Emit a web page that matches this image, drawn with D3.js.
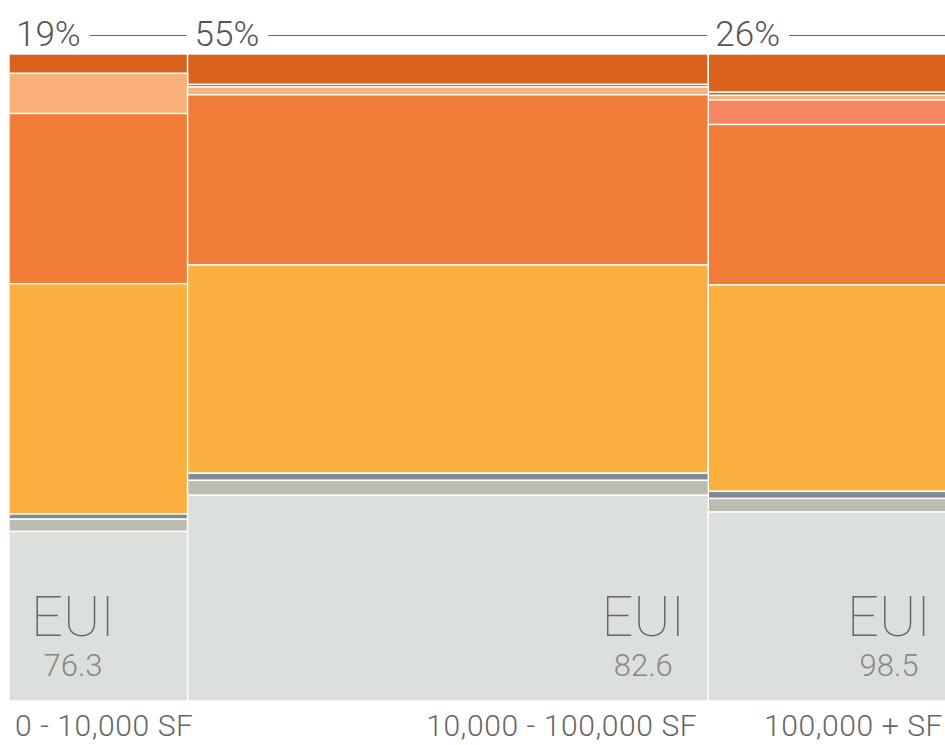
<!DOCTYPE html>
<html>
<head>
<meta charset="utf-8">
<script src="https://cdn.jsdelivr.net/npm/d3@7"></script>
<style>
  body { margin: 0; background: #fff; overflow: hidden; }
  text { font-family: Roboto, "Open Sans", sans-serif; }
</style>
</head>
<body>
<script>
var width = 945,
    height = 745;

// building size groups (column width = share of buildings)
var sizeLabels = ['0 - 10,000 SF', '10,000 - 100,000 SF', '100,000 + SF'];
var shares = [18.9, 55.1, 26.0];
var euiValues = [76.3, 82.6, 98.5];

// segment share (%) inside each column, listed top to bottom
var segKeys = ['s1', 's2', 's3', 's4', 's5', 's6', 's7', 's8', 's9'];
var segColors = ['#D9621D', '#C9692E', '#F8B179', '#F68561', '#F17C38', '#FAAF3F', '#7F8A94', '#BBBDB1', '#DCE0DD'];
var s1 = [3.0, 4.7, 5.9];
var s2 = [0, 0.4, 0.5];
var s3 = [6.2, 1.2, 0.7];
var s4 = [0, 0, 3.8];
var s5 = [26.3, 26.3, 24.8];
var s6 = [35.6, 32.2, 31.9];
var s7 = [0.8, 1.1, 1.1];
var s8 = [1.9, 2.3, 2.1];
var s9 = [26.2, 31.8, 29.2];
var segValues = [s1, s2, s3, s4, s5, s6, s7, s8, s9];

var svg = d3.select('body')
            .append('svg')
            .attr('width', width)
            .attr('height', height)

var x = d3.scaleLinear().domain([0, 100]).range([9, 954])
var y = d3.scaleLinear().domain([0, 100]).range([54, 701])
var color = d3.scaleOrdinal().domain(segKeys).range(segColors)

// cumulative left edge for each column
var cum = 0
var cols = shares.map(function(s, i) {
    var row = {i: i, x0: cum, x1: cum + s}
    cum += s
    segKeys.forEach(function(k, j) { row[k] = segValues[j][i] })
    return row
})

var stacked = d3.stack().keys(segKeys)(cols)

var seg = svg.selectAll('g.seg')
    .data(stacked)
    .enter().append('g')
    .attr('class', 'seg')
    .attr('fill', function(d) { return color(d.key) })

seg.selectAll('rect')
    .data(function(d) { return d.filter(function(p) { return p[1] - p[0] > 0 }) })
    .enter().append('rect')
    .attr('x', function(d) { return x(d.data.x0) })
    .attr('width', function(d) { return x(d.data.x1) - x(d.data.x0) })
    .attr('y', function(d) { return y(d[0]) })
    .attr('height', function(d) { return y(d[1]) - y(d[0]) })
    .attr('stroke', '#fff')
    .attr('stroke-width', 1.4)

var pct = d3.format('.0f')

// share labels with rule along top
cols.forEach(function(c) {
    var left = x(c.x0), right = x(c.x1)
    var t = svg.append('text')
        .attr('x', left + 7)
        .attr('y', 46)
        .attr('font-size', 35)
        .attr('font-weight', 300)
        .attr('fill', '#555')
        .text(pct(shares[c.i]) + '%')
    var tw = t.node().getComputedTextLength()
    svg.append('line')
        .attr('x1', left + 7 + tw + 9)
        .attr('x2', right - 1)
        .attr('y1', 35.5)
        .attr('y2', 35.5)
        .attr('stroke', '#666')
        .attr('stroke-width', 1)
})

// EUI labels
cols.forEach(function(c) {
    var cx = c.i === 0 ? x(c.x0) + 64 : x(c.x1) - 65
    svg.append('text')
        .attr('x', cx)
        .attr('y', 636)
        .attr('text-anchor', 'middle')
        .attr('font-size', 56)
        .attr('font-weight', 100)
        .attr('fill', '#666')
        .text('EUI')
    svg.append('text')
        .attr('x', cx)
        .attr('y', 676)
        .attr('text-anchor', 'middle')
        .attr('font-size', 31)
        .attr('font-weight', 300)
        .attr('fill', '#888')
        .text(euiValues[c.i])
})

// size labels under the columns
cols.forEach(function(c) {
    var first = c.i === 0
    svg.append('text')
        .attr('x', first ? x(c.x0) + 6 : x(c.x1) - 11)
        .attr('y', 736)
        .attr('text-anchor', first ? 'start' : 'end')
        .attr('font-size', 30)
        .attr('font-weight', 300)
        .attr('letter-spacing', 0.6)
        .attr('fill', '#666')
        .text(sizeLabels[c.i])
})
</script>
</body>
</html>
